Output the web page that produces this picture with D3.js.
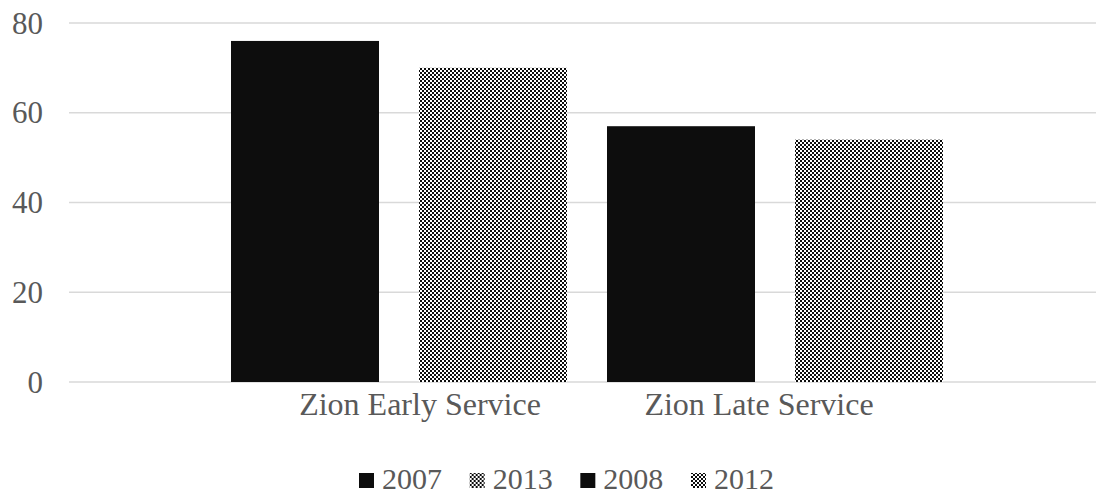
<!DOCTYPE html>
<html>
<head>
<meta charset="utf-8">
<script src="https://cdn.jsdelivr.net/npm/d3@7"></script>
<style>
  body { margin: 0; background: #fff; }
  svg { display: block; }
  text { font-family: "Liberation Serif", "Times New Roman", serif; fill: #595959; }
</style>
</head>
<body>
<div id="chart"></div>
<script>
// chart data
var categories = ["Zion Early Service", "Zion Late Service"];
var seriesNames = ["2007", "2013", "2008", "2012"];
var seriesCategory = ["Zion Early Service", "Zion Early Service", "Zion Late Service", "Zion Late Service"];
var seriesValues = [76, 70, 57, 54];
var seriesPatterned = [false, true, false, true];
var yTicks = [0, 20, 40, 60, 80];

var width = 1096, height = 496;
var svg = d3.select("#chart").append("svg")
  .attr("width", width)
  .attr("height", height);

// checker pattern used by 2013 / 2012
var defs = svg.append("defs");
var pat = defs.append("pattern")
  .attr("id", "checker")
  .attr("patternUnits", "userSpaceOnUse")
  .attr("width", 4)
  .attr("height", 4);
pat.append("rect").attr("width", 4).attr("height", 4).attr("fill", "#fff");
pat.append("rect").attr("x", 0).attr("y", 0).attr("width", 2).attr("height", 2).attr("fill", "#0d0d0d");
pat.append("rect").attr("x", 2).attr("y", 2).attr("width", 2).attr("height", 2).attr("fill", "#0d0d0d");

function fillFor(i) { return seriesPatterned[i] ? "url(#checker)" : "#0d0d0d"; }

var plotLeft = 69, plotRight = 1096;
var y = d3.scaleLinear().domain([0, 80]).range([382, 23]);

// bars slots, one per series
var x = d3.scaleBand()
  .domain(seriesNames)
  .range([211, 963])
  .paddingInner(0.2128)
  .paddingOuter(0.1064);

// category label positions
var xCat = d3.scalePoint().domain(categories).range([420, 759]);

// gridlines
svg.append("g").selectAll("line")
  .data(yTicks)
  .enter().append("line")
  .attr("x1", plotLeft)
  .attr("x2", plotRight)
  .attr("y1", function(d) { return y(d); })
  .attr("y2", function(d) { return y(d); })
  .attr("stroke", "#d9d9d9")
  .attr("stroke-width", 1.5);

// y tick labels
svg.append("g").selectAll("text")
  .data(yTicks)
  .enter().append("text")
  .attr("x", 43)
  .attr("y", function(d) { return y(d); })
  .attr("dy", "0.34em")
  .attr("text-anchor", "end")
  .style("font-size", "31px")
  .text(function(d) { return d; });

// bars
svg.append("g").selectAll("rect")
  .data(seriesValues)
  .enter().append("rect")
  .attr("x", function(d, i) { return x(seriesNames[i]); })
  .attr("width", x.bandwidth())
  .attr("y", function(d) { return y(d); })
  .attr("height", function(d) { return y(0) - y(d); })
  .attr("fill", function(d, i) { return fillFor(i); });

// category labels
svg.append("g").selectAll("text")
  .data(categories)
  .enter().append("text")
  .attr("x", function(d) { return xCat(d); })
  .attr("y", 415)
  .attr("text-anchor", "middle")
  .style("font-size", "32px")
  .text(function(d) { return d; });

// legend
var legendX = d3.scalePoint().domain(seriesNames).range([359, 691]);
var legend = svg.append("g").selectAll("g")
  .data(seriesNames)
  .enter().append("g")
  .attr("transform", function(d) { return "translate(" + legendX(d) + ",0)"; });
legend.append("rect")
  .attr("x", 0)
  .attr("y", 473)
  .attr("width", 15)
  .attr("height", 15)
  .attr("fill", function(d, i) { return fillFor(i); });
legend.append("text")
  .attr("x", 23)
  .attr("y", 489)
  .style("font-size", "30px")
  .text(function(d) { return d; });
</script>
</body>
</html>
